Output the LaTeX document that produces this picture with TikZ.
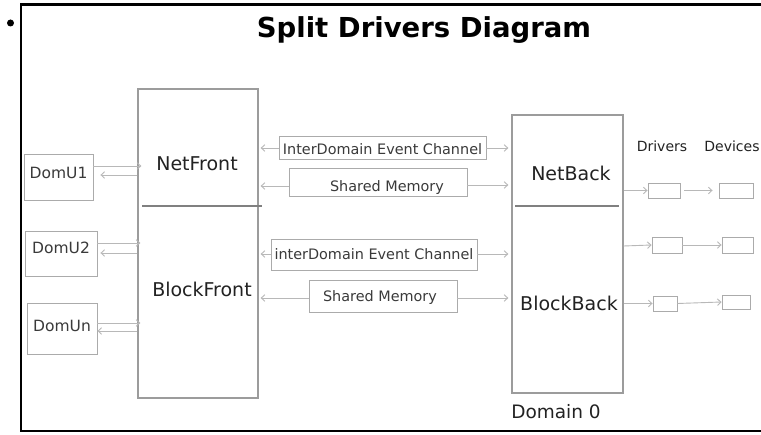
\documentclass[tikz,border=0pt]{standalone}
\usepackage{fontspec}
\setmainfont{DejaVu Sans}
\usetikzlibrary{arrows.meta}
\definecolor{boxgray}{HTML}{9C9C9C}
\definecolor{thingray}{HTML}{ABABAB}
\definecolor{arrgray}{HTML}{B8B8B8}
\definecolor{txt}{HTML}{222222}
\definecolor{txtlight}{HTML}{3A3A3A}
\tikzset{
  bigbox/.style={draw=boxgray, line width=1.3pt, inner sep=0pt},
  smallbox/.style={draw=thingray, line width=0.9pt, inner sep=0pt},
  lblbox/.style={draw=thingray, line width=0.9pt, inner sep=0pt, anchor=base, text=txtlight, font=\fontsize{14.4}{16}\selectfont},
  arr/.style={draw=arrgray, line width=0.9pt, -{Straight Barb[length=3.5pt,width=6.5pt]}},
  divider/.style={draw=gray, line width=1.3pt},
  biglbl/.style={anchor=base, inner sep=0pt, text=txt, font=\fontsize{19}{22}\selectfont},
  smalllbl/.style={anchor=base, inner sep=0pt, text=txt, font=\fontsize{14}{16}\selectfont},
}
\begin{document}
\begin{tikzpicture}[x=1pt, y=-1pt]
\useasboundingbox (0,0) rectangle (761,435);
\fill[white] (0,0) rectangle (761,435);
\begin{scope}
\clip (0,0) rectangle (761,435);
\draw[black, line width=2.5pt] (780,4.5) -- (21,4.5) -- (21,431) -- (780,431);
\end{scope}
\node[circle, fill=black, inner sep=0pt, minimum size=7pt] (bullet) at (10.5,23) {};
\node[anchor=base, inner sep=0pt, text=black, font=\bfseries\fontsize{27.5}{30}\selectfont] (title) at (424,38) {Split Drivers Diagram};

% big boxes
\node[bigbox, minimum width=120pt, minimum height=309pt] (front) at (198,243.5) {};
\node[bigbox, minimum width=111pt, minimum height=278pt] (back) at (567.5,254) {};
\draw[divider] (142,206) -- (262,206);
\draw[divider] (515,206) -- (619,206);
\node[biglbl] (netfront) at (197,171) {NetFront};
\node[biglbl] (blockfront) at (202,297) {BlockFront};
\node[biglbl] (netback) at (571,181) {NetBack};
\node[biglbl] (blockback) at (569,311) {BlockBack};
\node[biglbl, font=\fontsize{18.5}{22}\selectfont] (dom0) at (556,419) {Domain 0};

% DomU boxes
\node[lblbox, font=\fontsize{15.5}{18}\selectfont, minimum width=69pt, text height=25pt, text depth=21pt] (domu1) at (58.5,179) {DomU1};
\node[lblbox, font=\fontsize{15.5}{18}\selectfont, minimum width=72pt, text height=23pt, text depth=22pt] (domu2) at (61,254) {DomU2};
\node[lblbox, font=\fontsize{15.5}{18}\selectfont, minimum width=70pt, text height=29pt, text depth=22pt] (domun) at (62,332) {DomUn};

% middle channels
\node[lblbox, minimum width=207pt, text height=19pt, text depth=4pt] (ev1) at (382.5,155) {InterDomain Event Channel};
\node[lblbox, minimum width=178pt, text height=24pt, text depth=4pt] (sm1) at (378,192) {\hspace*{18pt}Shared Memory};
\node[lblbox, minimum width=206pt, text height=21pt, text depth=10pt] (ev2) at (374,260) {interDomain Event Channel};
\node[lblbox, minimum width=148pt, text height=22pt, text depth=10pt] (sm2) at (383,302) {Shared Memory\hspace*{6pt}};

% drivers / devices
\node[smalllbl] (drivers) at (662,152) {Drivers};
\node[smalllbl] (devices) at (732,152) {Devices};
\node[smallbox, minimum width=32pt, minimum height=15pt] (drv1) at (664,190.5) {};
\node[smallbox, minimum width=34pt, minimum height=15pt] (dev1) at (736,190.5) {};
\node[smallbox, minimum width=30pt, minimum height=16pt] (drv2) at (667,245) {};
\node[smallbox, minimum width=31pt, minimum height=16pt] (dev2) at (737.5,245) {};
\node[smallbox, minimum width=24pt, minimum height=15pt] (drv3) at (665,303.5) {};
\node[smallbox, minimum width=28pt, minimum height=14pt] (dev3) at (736,302) {};

% DomU <-> front
\draw[arr, shorten >=-4pt] (domu1.east |- 0,166) -- (front.west |- 0,166);
\draw[arr, shorten >=7pt] (front.west |- 0,175) -- (domu1.east |- 0,175);
\draw[arr, shorten >=-3pt] (domu2.east |- 0,243) -- (front.west |- 0,243);
\draw[arr, shorten >=3pt] (front.west |- 0,253) -- (domu2.east |- 0,253);
\draw[arr, shorten >=-3pt] (domun.east |- 0,323) -- (front.west |- 0,323);
\draw[arr] (front.west |- 0,331) -- (domun.east |- 0,331);

% channels
\draw[arr, shorten >=2pt] (ev1.west |- 0,148) -- (front.east |- 0,148);
\draw[arr, shorten >=3pt] (ev1.east |- 0,148) -- (back.west |- 0,148);
\draw[arr, shorten >=2pt] (sm1.west |- 0,186) -- (front.east |- 0,186);
\draw[arr, shorten >=3pt] (sm1.east |- 0,185) -- (back.west |- 0,185);
\draw[arr, shorten >=2pt] (ev2.west |- 0,254) -- (front.east |- 0,254);
\draw[arr, shorten >=3pt] (ev2.east |- 0,254) -- (back.west |- 0,254);
\draw[arr, shorten >=2pt] (sm2.west |- 0,298) -- (front.east |- 0,298);
\draw[arr, shorten >=3pt] (sm2.east |- 0,298) -- (back.west |- 0,298);

% back -> drivers -> devices
\draw[arr] (back.east |- drv1.west) -- (drv1.west);
\draw[arr, shorten <=4pt, shorten >=6pt] (drv1.east) -- (dev1.west);
\draw[arr] (back.east |- 0,246) -- (drv2.west);
\draw[arr] (drv2.east) -- (dev2.west);
\draw[arr] (back.east |- drv3.west) -- (drv3.west);
\draw[arr] (drv3.east) -- (dev3.west);
\end{tikzpicture}
\end{document}
